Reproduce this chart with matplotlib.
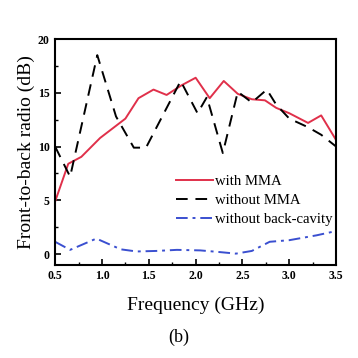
import numpy as np
import matplotlib
matplotlib.use("Agg")
import matplotlib.pyplot as plt
from matplotlib.ticker import MultipleLocator

plt.rcParams['font.family'] = ['Liberation Serif', 'DejaVu Serif']

# data
freq_mma = [0.5, 0.64, 0.78, 0.98, 1.25, 1.39, 1.55, 1.69, 1.85, 2.0, 2.15, 2.3, 2.45, 2.6, 2.74, 2.86, 3.0, 3.2, 3.34, 3.5]
fbr_mma = [4.9, 8.4, 9.05, 10.8, 12.6, 14.5, 15.3, 14.8, 15.7, 16.4, 14.5, 16.1, 14.9, 14.4, 14.3, 13.6, 13.1, 12.2, 12.9, 10.6]

freq_nomma = [0.5, 0.66, 0.95, 1.15, 1.34, 1.47, 1.84, 2.02, 2.12, 2.29, 2.45, 2.6, 2.76, 2.86, 3.0, 3.2, 3.34, 3.5]
fbr_nomma = [10.0, 7.2, 18.5, 12.8, 9.9, 9.9, 16.1, 13.1, 14.6, 9.4, 15.1, 14.1, 15.3, 13.9, 12.6, 11.8, 11.1, 10.0]

freq_nocav = [0.5, 0.66, 0.94, 1.2, 1.37, 1.58, 1.8, 2.05, 2.25, 2.43, 2.6, 2.79, 3.0, 3.29, 3.5]
fbr_nocav = [1.15, 0.4, 1.45, 0.45, 0.25, 0.3, 0.4, 0.35, 0.2, 0.05, 0.3, 1.15, 1.3, 1.75, 2.15]

fig = plt.figure(figsize=(3.58, 3.58), dpi=100)
ax = fig.add_axes([0.154, 0.26, 0.785, 0.631])

ax.plot(freq_mma, fbr_mma, color='#e0304a', lw=1.4, label='with MMA')
ax.plot(freq_nomma, fbr_nomma, color='black', lw=1.4, ls=(0, (6, 4)), label='without MMA')
ax.plot(freq_nocav, fbr_nocav, color='#3a4fd0', lw=1.4, ls=(0, (6, 2.5, 1.5, 2.5)), label='without back-cavity')

ax.set_xlim(0.5, 3.5)
ax.set_ylim(-1, 20)
ax.xaxis.set_major_locator(MultipleLocator(0.5))
ax.xaxis.set_minor_locator(MultipleLocator(0.25))
ax.yaxis.set_major_locator(MultipleLocator(5))
ax.yaxis.set_minor_locator(MultipleLocator(2.5))
ax.tick_params(which='both', direction='in', top=False, right=False)
ax.tick_params(which='major', length=4, width=1.2, labelsize=8.5, pad=4)
ax.tick_params(which='minor', length=2.5, width=1)
for lbl in ax.get_xticklabels() + ax.get_yticklabels():
    lbl.set_fontweight('bold')
for s in ax.spines.values():
    s.set_linewidth(1.5)

ax.set_xlabel('Frequency (GHz)', fontsize=14, labelpad=10)
ax.set_ylabel('Front-to-back radio (dB)', fontsize=14, labelpad=2)

leg = ax.legend(loc='upper left', bbox_to_anchor=(0.43, 0.40), frameon=False, fontsize=10.6,
                handlelength=2.5, handletextpad=0.15, labelspacing=0.4, borderpad=0, borderaxespad=0)

fig.text(0.5, 0.045, '(b)', ha='center', fontsize=13)

fig.savefig('out.png', dpi=100)
